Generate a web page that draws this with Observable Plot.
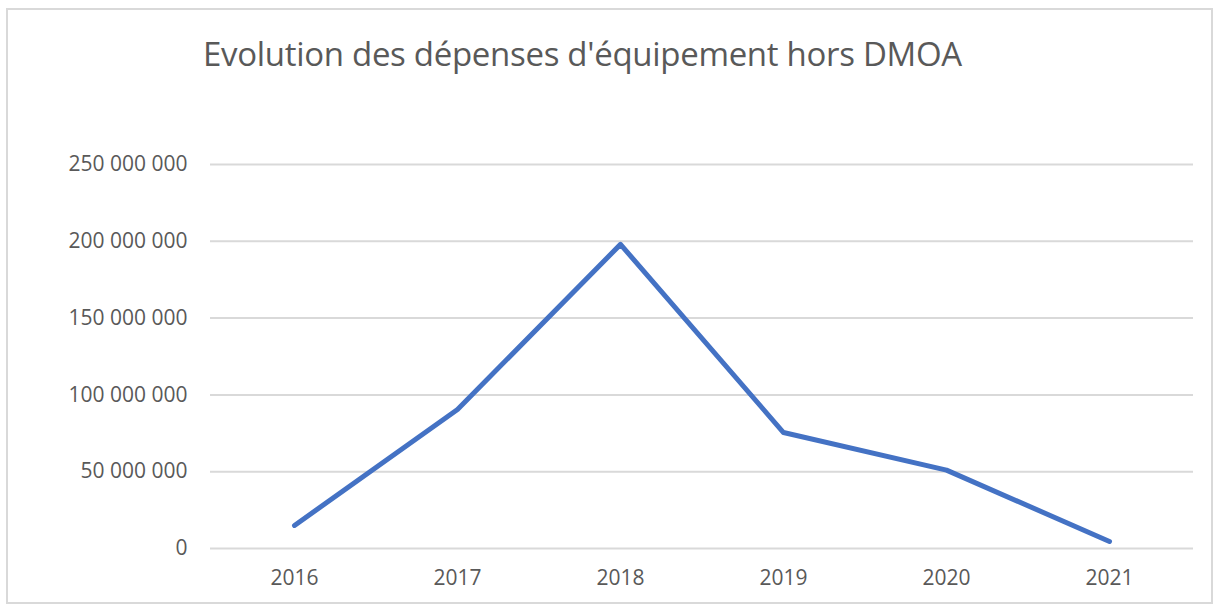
<!DOCTYPE html>
<html>
<head>
<meta charset="utf-8">
<script src="https://cdn.jsdelivr.net/npm/d3@7"></script>
<script src="https://cdn.jsdelivr.net/npm/@observablehq/plot@0.6"></script>
<style>
  html, body { margin: 0; padding: 0; background: #fff; }
  #wrap { position: relative; width: 1222px; height: 611px; overflow: hidden; }
  #frame { position: absolute; left: 6px; top: 8px; width: 1207px; height: 596px; border: 2px solid #d9d9d9; box-sizing: border-box; }
  #title { position: absolute; left: 203px; top: 34px; font-family: "Open Sans", sans-serif; font-size: 33px; letter-spacing: -0.3px; color: #595959; white-space: nowrap; line-height: 1.2; }
  #chart { position: absolute; left: 0; top: 0; }
</style>
</head>
<body>
<div id="wrap">
  <div id="frame"></div>
  <div id="chart"></div>
  <div id="title">Evolution des dépenses d'équipement hors DMOA</div>
</div>
<script>
const years = ["2016", "2017", "2018", "2019", "2020", "2021"];
const values = [15000000, 90500000, 198000000, 75500000, 51000000, 4600000];
const yTicks = [0, 50000000, 100000000, 150000000, 200000000, 250000000];

const data = years.map((y, i) => ({year: y, value: values[i]}));
const fmt = v => d3.format(",")(v).replace(/,/g, "\u00a0");

const chart = Plot.plot({
  width: 1222,
  height: 611,
  marginLeft: 210,
  marginRight: 29,
  marginTop: 164,
  marginBottom: 63,
  style: {fontFamily: "Open Sans, sans-serif", fontSize: "21px", color: "#595959", background: "transparent"},
  x: {type: "point", domain: years, padding: 0.5, label: null},
  y: {domain: [0, 250000000], label: null},
  marks: [
    Plot.ruleY(yTicks, {stroke: "#d9d9d9", strokeWidth: 2}),
    Plot.axisY({ticks: yTicks, tickSize: 0, tickPadding: 23, tickFormat: fmt, label: null, fill: "#595959"}),
    Plot.axisX({tickSize: 0, tickPadding: 22, label: null, fill: "#595959"}),
    Plot.line(data, {x: "year", y: "value", stroke: "#4472C4", strokeWidth: 5, strokeLinecap: "round", strokeLinejoin: "round"})
  ]
});
document.getElementById("chart").appendChild(chart);
</script>
</body>
</html>
